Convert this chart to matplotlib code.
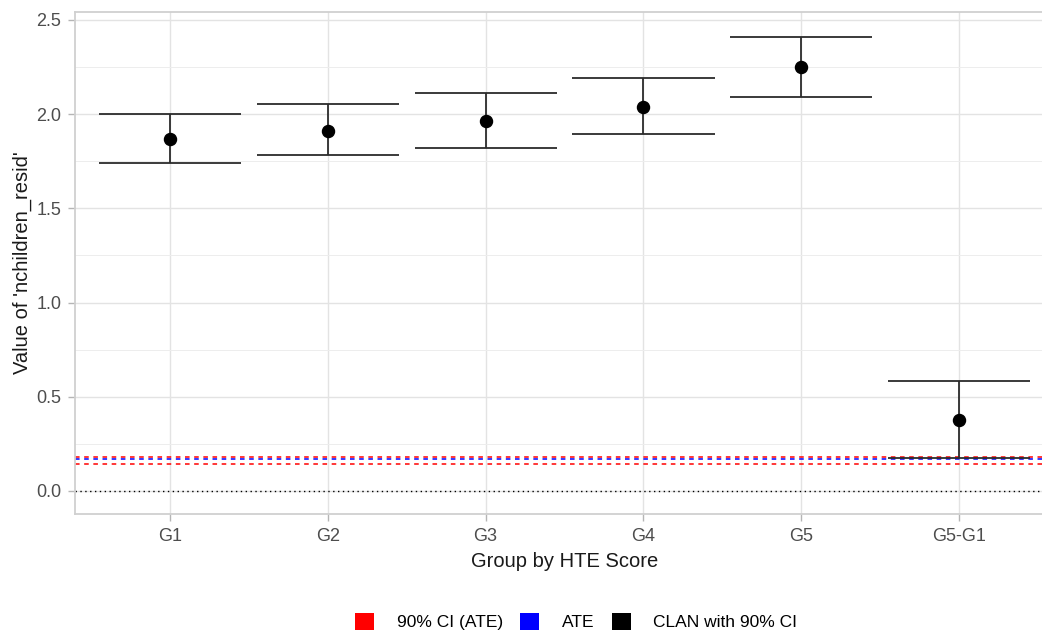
import matplotlib
matplotlib.use("Agg")
import matplotlib.pyplot as plt
from matplotlib.patches import Patch
from matplotlib.ticker import MultipleLocator, FormatStrFormatter

# CLAN estimates per HTE group, with 90% CI bounds
groups = ["G1", "G2", "G3", "G4", "G5", "G5-G1"]
estimate = [1.868, 1.912, 1.966, 2.040, 2.250, 0.378]
ci_lower = [1.740, 1.783, 1.820, 1.893, 2.093, 0.175]
ci_upper = [2.003, 2.054, 2.110, 2.190, 2.410, 0.584]

# ATE and its 90% CI
ate = 0.168
ate_ci = [0.143, 0.182]

plt.rcParams["font.family"] = ["Liberation Sans", "DejaVu Sans"]

fig = plt.figure(figsize=(10.42, 6.35), dpi=100)
ax = fig.add_axes([0.072, 0.1906, 0.9395, 0.7905])

xs = list(range(1, len(groups) + 1))

ax.axhline(0, color="black", linestyle=(0, (1, 2.5)), linewidth=1.0, zorder=2)
for v in ate_ci:
    ax.axhline(v, color="red", linestyle=(0, (3, 3)), linewidth=1.1, zorder=2)
ax.axhline(ate, color="blue", linestyle=(0, (3, 3)), linewidth=1.1, zorder=2)

for x, lo, hi in zip(xs, ci_lower, ci_upper):
    ax.vlines(x, lo, hi, color="#2b2b2b", linewidth=1.3, zorder=3)
    ax.hlines([lo, hi], x - 0.45, x + 0.45, color="#2b2b2b", linewidth=1.3, zorder=3)
ax.scatter(xs, estimate, s=75, color="black", zorder=4)

ax.set_xlim(0.4, 6.6)
ax.set_ylim(-0.122, 2.542)
ax.set_xticks(xs)
ax.set_xticklabels(groups)
ax.yaxis.set_major_locator(MultipleLocator(0.5))
ax.yaxis.set_minor_locator(MultipleLocator(0.25))
ax.yaxis.set_major_formatter(FormatStrFormatter("%.1f"))

ax.grid(True, which="major", color="#e3e3e3", linewidth=1.0, zorder=0)
ax.grid(True, which="minor", axis="y", color="#ededed", linewidth=0.7, zorder=0)
ax.set_axisbelow(True)
for s in ax.spines.values():
    s.set_color("#d0d0d0")
    s.set_linewidth(1.3)
ax.tick_params(which="major", colors="#b5b5b5", labelcolor="#4d4d4d",
               labelsize=13, length=5, width=1, pad=5)
ax.tick_params(which="minor", length=0)

ax.set_xlabel("Group by HTE Score", fontsize=14.5, color="#1a1a1a", labelpad=5)
ax.set_ylabel("Value of 'nchildren_resid'", fontsize=14.5, color="#1a1a1a", labelpad=3)

handles = [Patch(facecolor="red", edgecolor="none", label="90% CI (ATE)"),
           Patch(facecolor="blue", edgecolor="none", label="ATE"),
           Patch(facecolor="black", edgecolor="none", label="CLAN with 90% CI")]
fig.legend(handles=handles, loc="center", bbox_to_anchor=(0.553, 0.021), ncol=3,
           frameon=False, fontsize=12.5, handlelength=1.1, handleheight=1.1,
           handletextpad=1.3, columnspacing=1.0)

fig.savefig("out.png", dpi=100)
